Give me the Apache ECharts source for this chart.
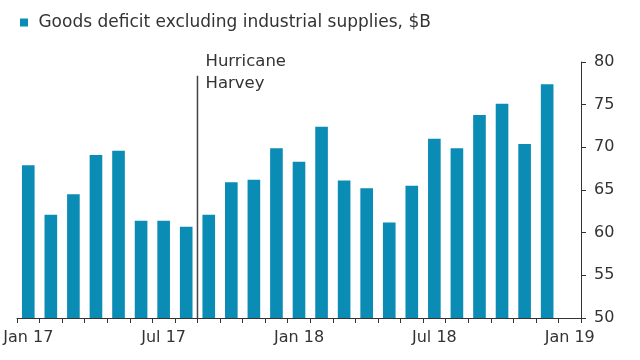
<!DOCTYPE html>
<html>
<head>
<meta charset="utf-8">
<script src="https://cdn.jsdelivr.net/npm/echarts@6/dist/echarts.min.js"></script>
<style>html,body{margin:0;padding:0;background:#fff}#c{width:640px;height:360px}</style>
</head>
<body>
<div id="c"></div>
<script>
const categories = ['Jan 17','Feb 17','Mar 17','Apr 17','May 17','Jun 17','Jul 17','Aug 17','Sep 17','Oct 17','Nov 17','Dec 17',
  'Jan 18','Feb 18','Mar 18','Apr 18','May 18','Jun 18','Jul 18','Aug 18','Sep 18','Oct 18','Nov 18','Dec 18','Jan 19'];
const deficit = [67.9,62.1,64.5,69.1,69.6,61.4,61.4,60.7,62.1,65.9,66.2,69.9,
  68.3,72.4,66.1,65.2,61.2,65.5,71.0,69.9,73.8,75.1,70.4,77.4,null];
const yTicks = {min:50, max:80, interval:5};
const harvey = {boundary: 8, top: 78.4, label: 'Hurricane\nHarvey'};
const seriesName = 'Goods deficit excluding industrial supplies, $B';

const FONT = 'DejaVu Sans';
const TXT = '#333';
const chart = echarts.init(document.getElementById('c'), null, {renderer:'canvas'});
chart.setOption({
  animation:false,
  textStyle:{fontFamily:FONT},
  legend:{
    left:20, top:14, padding:0, itemWidth:8, itemHeight:8, itemGap:10,
    icon:'rect',
    formatter: name => ' ' + name,
    textStyle:{fontSize:17, color:TXT, fontFamily:FONT},
    data:[seriesName]
  },
  grid:{left:17, right:59, top:62, bottom:42, containLabel:false},
  xAxis:[{
    type:'category', data:categories, boundaryGap:true,
    axisLine:{lineStyle:{color:'#333', width:1}},
    axisTick:{show:true, interval:0, length:5, lineStyle:{color:'#333'}},
    axisLabel:{interval:5, fontSize:16, color:TXT, margin:12, fontFamily:FONT}
  },{
    type:'value', min:0, max:categories.length, show:false
  }],
  yAxis:{
    type:'value', position:'right', min:yTicks.min, max:yTicks.max, interval:yTicks.interval,
    axisLine:{show:true, onZero:false, lineStyle:{color:'#333'}},
    axisTick:{show:true, length:5, lineStyle:{color:'#333'}},
    splitLine:{show:false},
    axisLabel:{fontSize:16, color:TXT, margin:13, fontFamily:FONT}
  },
  series:[{
    name:seriesName, type:'bar', data:deficit, barCategoryGap:'44%',
    itemStyle:{color:'#0b8cb4'}
  },{
    type:'line', xAxisIndex:1, symbol:'none', silent:true,
    data:[[harvey.boundary, yTicks.min],[harvey.boundary, harvey.top]],
    lineStyle:{color:'#444', width:1.5},
    label:{show:false},
    markPoint:{
      symbol:'circle', symbolSize:0,
      data:[{coord:[harvey.boundary, harvey.top]}],
      label:{show:true, position:'right', distance:8, offset:[0,-3], formatter:harvey.label,
        fontSize:16.5, lineHeight:22, color:TXT, fontFamily:FONT}
    }
  }]
});
</script>
</body>
</html>
